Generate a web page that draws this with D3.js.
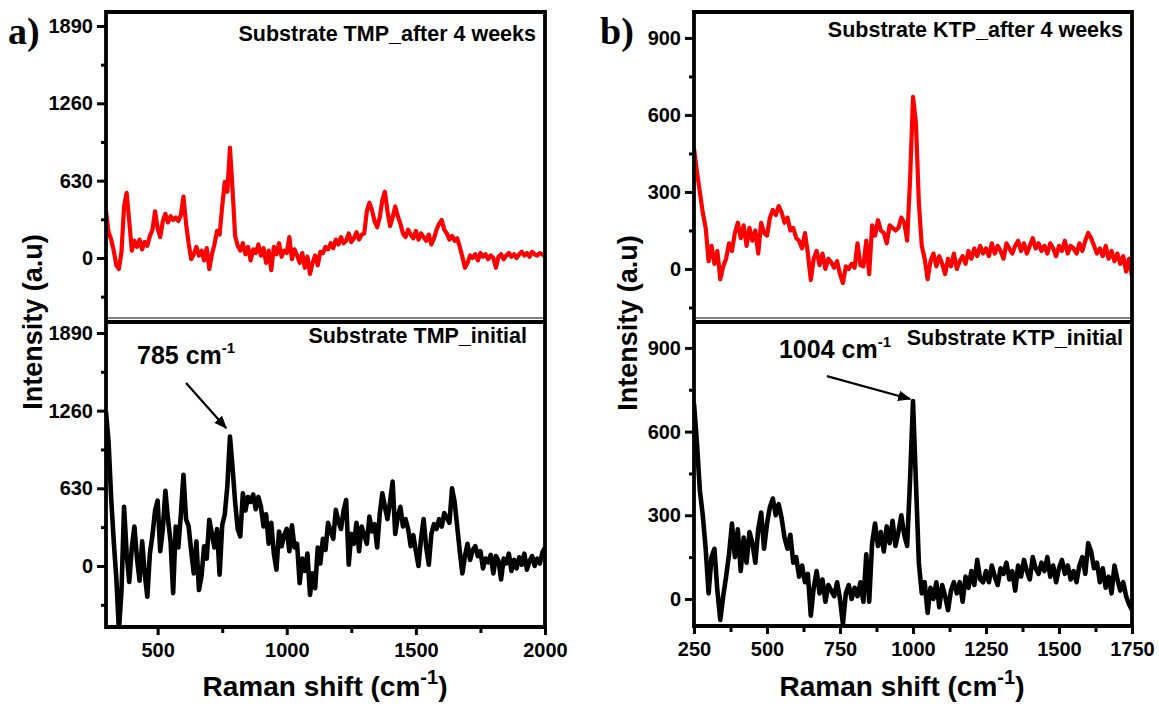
<!DOCTYPE html>
<html>
<head>
<meta charset="utf-8">
<script src="https://cdn.jsdelivr.net/npm/d3@7/dist/d3.min.js"></script>
<style>
  body { margin: 0; background: #fff; }
  text { font-family: Arial, "Liberation Sans", sans-serif; font-weight: bold; fill: #000; }
</style>
</head>
<body>
<svg id="chart" width="1159" height="706"></svg>
<script>
// Spectra data ------------------------------------------------------------
// values every 10 cm-1
const tmpStart = 300, ktpStart = 250, step = 10;

const tmpAfter = [
  380, 210, 150, 60, -60, -90, 50, 420, 530, 300,
  60, 140, 90, 150, 70, 130, 100, 180, 230, 380,
  240, 170, 300, 360, 290, 340, 310, 330, 300, 350,
  500, 280, 120, -10, 30, 90, 20, 60, -20, 80,
  -90, 30, 110, 220, 190, 420, 620, 540, 900, 560,
  180, 100, 60, 120, 30, 90, -20, 70, 40, 110,
  20, 80, -40, 60, -100, 90, 30, 120, 10, 60,
  40, 170, -10, 70, 20, -40, 40, -80, 10, -130,
  -40, 20, -60, 50, 40, 90, 70, 120, 80, 150,
  110, 170, 120, 140, 200, 130, 160, 210, 150, 190,
  200, 380, 450, 390, 300, 250, 330, 470, 540, 380,
  260, 330, 420, 340, 280, 200, 170, 230, 190, 160,
  220, 150, 200, 170, 140, 190, 110, 160, 230, 280,
  310, 230, 200, 150, 180, 140, 160, 90, 10, -80,
  -40, 20, 0, 30, -20, 40, 10, 30, -10, 20,
  0, -80, 10, 30, -10, 20, 40, 10, 30, 0,
  30, 50, 20, 40, 10, 50, 30, 20, 40, 30,
  10
];

const tmpInitial = [
  1250, 1000, 550, 200, -100, -520, -200, 480, 100, -130,
  150, 320, 60, -120, 200, -60, -250, 100, 250, 450,
  530, 120, 300, 610, 380, 200, -220, 320, 150, 420,
  740, 380, 320, 120, -60, 200, -195, -80, 160, 60,
  375, 260, 150, 300, -70, 330, 420, 650, 1050, 800,
  520, 300, 240, 590, 450, 560, 520, 580, 460, 560,
  480, 320, 420, 180, 350, 100, -30, 280, 160, 250,
  300, 120, 330, 150, 180, -140, 60, -40, 100, -235,
  -60, -180, 150, 20, 220, 130, 350, 280, 220, 455,
  360, 300, 450, 535, 10, 260, 180, 350, 120, 320,
  250, 180, 400, 280, 340, 150, 420, 590, 480, 380,
  520, 685, 260, 400, 480, 320, 380, 300, 160, 250,
  120, 0, 220, 380, 150, 10, 260, 340, 300, 380,
  320, 430, 390, 350, 630, 520, 320, 120, -60, 80,
  180, 50, 130, 160, 80, 120, -20, 60, 30, 90,
  -60, 80, 40, -110, 60, 20, 100, -40, 50, -20,
  70, 10, 100, -30, 40, 80, 0, 60, 20, 110,
  150
];

const ktpAfter = [
  470, 380, 300, 220, 160, 30, 90, 20, 70, -40,
  10, 40, 100, 70, 140, 180, 120, 170, 90, 160,
  110, 150, 60, 180, 140, 130, 200, 230, 210, 245,
  220, 180, 200, 150, 160, 120, 110, 80, 140, 60,
  -43, 40, 70, 15, 60, 0, 40, 25, 5, 30,
  -20, -55, 10, 0, 20, 5, 100, 15, 10, 110,
  -20, 170, 130, 190, 150, 140, 100, 170, 160, 150,
  160, 200, 180, 110, 350, 670, 570, 260, 90, 40,
  -40, 30, 60, 10, 50, 20, -20, 40, 10, 60,
  0, 30, 50, 20, 70, 40, 80, 50, 90, 60,
  80, 50, 100, 60, 90, 70, 40, 100, 80, 60,
  90, 110, 70, 100, 60, 90, 120, 80, 100, 70,
  90, 60, 100, 80, 50, 90, 70, 110, 60, 90,
  80, 60, 100, 70, 110, 140, 120, 90, 60, 80,
  50, 90, 40, 70, 30, 60, 20, 50, -10, 40,
  -30
];

const ktpInitial = [
  700, 560, 390, 300, 180, 20, 150, 180, 30, -75,
  10, 80, 160, 270, 150, 250, 100, 220, 130, 240,
  200, 130, 250, 310, 180, 270, 330, 360, 300, 340,
  290, 220, 180, 230, 130, 150, 80, 120, 60, 90,
  -60, 40, 100, 20, 70, -10, 50, 30, 10, 60,
  0, -90, 20, 50, 0, 40, 10, 60, -10, 160,
  -10, 200, 270, 190, 240, 170, 260, 200, 280, 190,
  240, 300, 230, 190, 430, 710, 420, 130, 20, 60,
  -50, 40, 0, 60, -30, 50, 10, -40, 30, 60,
  20, 60, -10, 80, 40, 100, 50, 140, 70, 60,
  100, 60, 120, 80, 50, 110, 90, 130, 70, 100,
  30, 120, 80, 140, 100, 70, 150, 110, 90, 130,
  100, 150, 80, 120, 60, 110, 140, 90, 120, 70,
  100, 60, 120, 150, 90, 200, 170, 110, 130, 60,
  110, 40, 80, 20, 120, 70, 30, 60, 10, -20,
  -40
];

// tick values
const tmpYTicks = [0, 630, 1260, 1890];
const tmpYMinor = [-315, 315, 945, 1575];
const ktpYTicks = [0, 300, 600, 900];
const ktpYMinor = [-150, 150, 450, 750];
const tmpXTicks = [500, 1000, 1500, 2000];
const tmpXMinor = [750, 1250, 1750];
const ktpXTicks = [250, 500, 750, 1000, 1250, 1500, 1750];
const ktpXMinor = [375, 625, 875, 1125, 1375, 1625];

const titles = ["Substrate TMP_after 4 weeks", "Substrate TMP_initial",
                "Substrate KTP_after 4 weeks", "Substrate KTP_initial"];

// Layout ------------------------------------------------------------------
const svg = d3.select("#chart");
const defs = svg.append("defs");

const panels = [
  { id: "a1", data: tmpAfter, start: tmpStart, color: "#ff0000", lw: 4.2,
    left: 106, right: 545, top: 12, bottom: 318, xDomain: [300, 2000], yDomain: [-489, 2004],
    yTicks: tmpYTicks, yMinor: tmpYMinor, title: titles[0], titleX: 536, titleY: 41 },
  { id: "a2", data: tmpInitial, start: tmpStart, color: "#000", lw: 4.6,
    left: 106, right: 545, top: 322, bottom: 627, xDomain: [300, 2000], yDomain: [-495, 1979],
    yTicks: tmpYTicks, yMinor: tmpYMinor, xTicks: tmpXTicks, xMinor: tmpXMinor,
    title: titles[1], titleX: 527, titleY: 343 },
  { id: "b1", data: ktpAfter, start: ktpStart, color: "#ff0000", lw: 4.2,
    left: 694, right: 1132, top: 12, bottom: 318, xDomain: [250, 1750], yDomain: [-191, 1001],
    yTicks: ktpYTicks, yMinor: ktpYMinor, title: titles[2], titleX: 1123, titleY: 37 },
  { id: "b2", data: ktpInitial, start: ktpStart, color: "#000", lw: 4.6,
    left: 694, right: 1132, top: 322, bottom: 626, xDomain: [250, 1750], yDomain: [-97, 993],
    yTicks: ktpYTicks, yMinor: ktpYMinor.filter(d => d > -97), xTicks: ktpXTicks, xMinor: ktpXMinor,
    title: titles[3], titleX: 1123, titleY: 345 }
];

const scales = {};

panels.forEach(function (p) {
  const x = d3.scaleLinear().domain(p.xDomain).range([p.left, p.right]);
  const y = d3.scaleLinear().domain(p.yDomain).range([p.bottom, p.top]);
  scales[p.id] = { x: x, y: y };

  defs.append("clipPath").attr("id", "clip-" + p.id)
    .append("rect")
    .attr("x", p.left).attr("y", p.top)
    .attr("width", p.right - p.left).attr("height", p.bottom - p.top);

  const pts = p.data.map((v, i) => [p.start + i * step, v]);
  const line = d3.line().x(d => x(d[0])).y(d => y(d[1]));

  svg.append("path")
    .datum(pts)
    .attr("clip-path", "url(#clip-" + p.id + ")")
    .attr("d", line)
    .attr("fill", "none")
    .attr("stroke", p.color)
    .attr("stroke-width", p.lw)
    .attr("stroke-linejoin", "round");

  // y axis major + minor
  const gy = svg.append("g")
    .attr("transform", "translate(" + p.left + ",0)")
    .call(d3.axisLeft(y).tickValues(p.yTicks).tickSize(9).tickPadding(4).tickFormat(d3.format("d")));
  gy.select(".domain").remove();
  gy.selectAll("line").attr("stroke-width", 3);
  gy.selectAll("text").style("font-size", "20px");

  const gym = svg.append("g")
    .attr("transform", "translate(" + p.left + ",0)")
    .call(d3.axisLeft(y).tickValues(p.yMinor).tickSize(5).tickFormat(""));
  gym.select(".domain").remove();
  gym.selectAll("line").attr("stroke-width", 3);

  if (p.xTicks) {
    const gx = svg.append("g")
      .attr("transform", "translate(0," + p.bottom + ")")
      .call(d3.axisBottom(x).tickValues(p.xTicks).tickSize(8).tickPadding(8).tickFormat(d3.format("d")));
    gx.select(".domain").remove();
    gx.selectAll("line").attr("stroke-width", 3);
    gx.selectAll("text").style("font-size", "20px");

    const gxm = svg.append("g")
      .attr("transform", "translate(0," + p.bottom + ")")
      .call(d3.axisBottom(x).tickValues(p.xMinor).tickSize(6).tickFormat(""));
    gxm.select(".domain").remove();
    gxm.selectAll("line").attr("stroke-width", 3);
  }

  // frame
  const frame = svg.append("g").attr("stroke", "#000").attr("fill", "none");
  frame.append("path")
    .attr("d", "M" + p.left + "," + p.bottom + "V" + p.top + "H" + p.right + "V" + p.bottom)
    .attr("stroke-width", 3.8)
    .attr("stroke-linecap", "square");
  frame.append("line")
    .attr("x1", p.left).attr("x2", p.right)
    .attr("y1", p.bottom).attr("y2", p.bottom)
    .attr("stroke-width", p.xTicks ? 3.8 : 1);

  svg.append("text")
    .attr("x", p.titleX).attr("y", p.titleY)
    .attr("text-anchor", "end")
    .style("font-size", "21.5px")
    .text(p.title);
});

// panel letters
svg.append("text").attr("x", 8).attr("y", 44)
  .style("font-family", "'Liberation Serif', 'Times New Roman', serif")
  .style("font-size", "38px").text("a)");
svg.append("text").attr("x", 600).attr("y", 44)
  .style("font-family", "'Liberation Serif', 'Times New Roman', serif")
  .style("font-size", "38px").text("b)");

// axis titles
[[42, 322], [637, 323]].forEach(function (c) {
  svg.append("text")
    .attr("transform", "translate(" + c[0] + "," + c[1] + ") rotate(-90)")
    .attr("text-anchor", "middle")
    .style("font-size", "27px")
    .text("Intensity (a.u)");
});

[[325, 696], [902, 696]].forEach(function (c) {
  const t = svg.append("text")
    .attr("x", c[0]).attr("y", c[1])
    .attr("text-anchor", "middle")
    .style("font-size", "28px");
  t.append("tspan").text("Raman shift (cm");
  t.append("tspan").attr("dy", -12).style("font-size", "20px").text("-1");
  t.append("tspan").attr("dy", 12).text(")");
});

// peak annotations
const annotations = [
  { panel: "a2", label: "785 cm", lx: 420, ly: 1638, x1: 610, y1: 1484, x2: 765, y2: 1119 },
  { panel: "b2", label: "1004 cm", lx: 541, ly: 864, x1: 705, y1: 799, x2: 990, y2: 717 }
];

defs.append("marker")
  .attr("id", "arrow")
  .attr("viewBox", "0 0 10 10")
  .attr("refX", 9).attr("refY", 5)
  .attr("markerWidth", 6).attr("markerHeight", 6)
  .attr("markerUnits", "strokeWidth")
  .attr("orient", "auto")
  .append("path").attr("d", "M0,1 L10,5 L0,9 Z").attr("fill", "#000");

annotations.forEach(function (a) {
  const s = scales[a.panel];
  const t = svg.append("text")
    .attr("x", s.x(a.lx)).attr("y", s.y(a.ly))
    .style("font-size", "25px");
  t.append("tspan").text(a.label);
  t.append("tspan").attr("dy", -11).style("font-size", "15px").text("-1");

  svg.append("line")
    .attr("x1", s.x(a.x1)).attr("y1", s.y(a.y1))
    .attr("x2", s.x(a.x2)).attr("y2", s.y(a.y2))
    .attr("stroke", "#000").attr("stroke-width", 2.2)
    .attr("marker-end", "url(#arrow)");
});
</script>
</body>
</html>
